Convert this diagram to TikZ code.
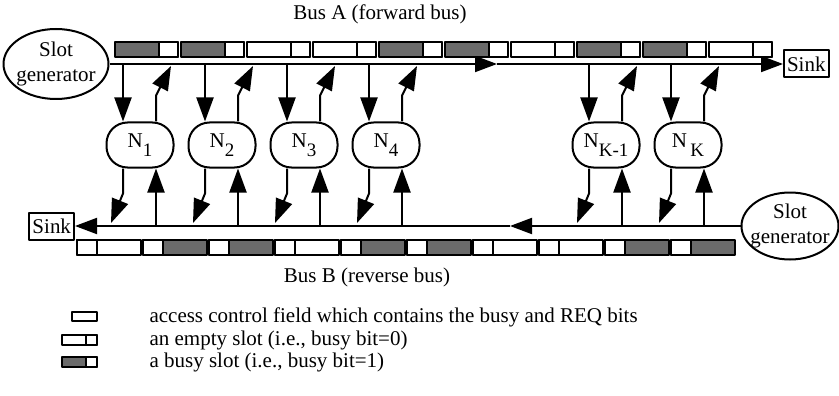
\documentclass[tikz,border=0pt]{standalone}
\usepackage{fontspec}
\setmainfont{Liberation Serif}
\usetikzlibrary{arrows.meta,calc,shapes.geometric}
\colorlet{busyfill}{black!58}
\tikzset{
  every picture/.style={
    font=\fontsize{21}{25}\selectfont,
    line join=round,
  },
  busarrow/.style={line width=2pt, -{Triangle[length=22pt,width=16pt]}},
  tap/.style={line width=2pt, -{Triangle[length=24pt,width=17pt]}},
  station/.style={draw, line width=2pt, rounded corners=21pt,
    minimum width=67pt, minimum height=45pt, inner sep=0pt},
  generator/.style={draw, ellipse, line width=2pt, align=center,
    inner xsep=-6pt, inner ysep=-3pt},
  sinkbox/.style={draw, line width=2pt, inner xsep=3pt, minimum height=27pt},
  slotline/.style={line width=2pt},
}
\newcommand\nsub[1]{N\raisebox{-9pt}{\fontsize{19}{19}\selectfont#1}}
\begin{document}
\begin{tikzpicture}[x=1pt,y=-1pt]
\useasboundingbox (0,0) rectangle (839,396);
% buses and their ends
\node[generator, minimum width=105pt, minimum height=70pt] (genA) at (56,64) {Slot\\generator};
\node[sinkbox, anchor=west] (sinkA) at (783,64) {Sink};
\node[generator, minimum width=97pt, minimum height=67pt] (genB) at (790,226) {Slot\\generator};
\node[sinkbox, anchor=east] (sinkB) at (75,226) {Sink};
\coordinate (busA) at (0,64);
\coordinate (busB) at (0,226);
\coordinate (a mid) at (497,64);
\coordinate (b mid) at (510,226);
\draw[busarrow] (genA.east) -- (a mid);
\draw[busarrow] (a mid) -- (sinkA.west);
\draw[busarrow] (genB.west) -- (b mid);
\draw[busarrow] (b mid) -- (sinkB.east);
\node (labA) at (380,14) {Bus A (forward bus)};
\node (labB) at (367,277) {Bus B (reverse bus)};
% slots on bus A, access field at the front (right)
\foreach \busy [count=\i from 0] in {1,1,0,0,1,1,0,1,1,0} {
  \pgfmathsetmacro\xl{115+66*\i}
  \ifnum\busy=1 \def\fillc{busyfill}\else\def\fillc{white}\fi
  \draw[slotline, fill=\fillc] (\xl,42) rectangle ++(63,15);
  \draw[slotline, fill=white] (\xl+44,42) rectangle ++(19,15);
}
% slots on bus B, access field at the front (left)
\foreach \busy [count=\i from 0] in {0,1,1,0,1,1,0,0,1,1} {
  \pgfmathsetmacro\xl{77+66*\i}
  \ifnum\busy=1 \def\fillc{busyfill}\else\def\fillc{white}\fi
  \draw[slotline, fill=\fillc] (\xl,240) rectangle ++(64,15);
  \draw[slotline, fill=white] (\xl,240) rectangle ++(20,15);
}
% stations
\foreach \n/\x/\lab in {n1/140/1, n2/222/2, n3/304/3, n4/386/4, nk1/606/{K-1}, nk/688/{\,K}} {
  \node[station] (\n) at (\x,145) {\nsub{\lab}};
  \coordinate (\n tl) at ($(\n.north)+(-17,0)$);
  \coordinate (\n tr) at ($(\n.north)+(16,0)$);
  \coordinate (\n bl) at ($(\n.south)+(-17,0)$);
  \coordinate (\n br) at ($(\n.south)+(16,0)$);
  \draw[tap] (\n tl |- busA) -- (\n tl);
  \draw[tap] (\n tr) -- ++(0,-26) -- ($(\n tr |- busA)+(15,2)$);
  \draw[tap] (\n bl) -- ++(0,25) -- ($(\n bl |- busB)+(-12,-3)$);
  \draw[tap] (\n br |- busB) -- (\n br);
}
% legend
\draw[slotline, fill=white] (72,312) rectangle (97,321);
\draw[slotline, fill=white] (62,335) rectangle (97,345);
\draw[slotline, fill=white] (86,335) rectangle (97,345);
\draw[slotline, fill=busyfill] (62,357) rectangle (97,367);
\draw[slotline, fill=white] (86,357) rectangle (97,367);
\node[anchor=west] (lg1) at (146,317) {access control field which contains the busy and REQ bits};
\node[anchor=west] (lg2) at (146,340) {an empty slot (i.e., busy bit=0)};
\node[anchor=west] (lg3) at (146,362) {a busy slot (i.e., busy bit=1)};
\end{tikzpicture}
\end{document}
